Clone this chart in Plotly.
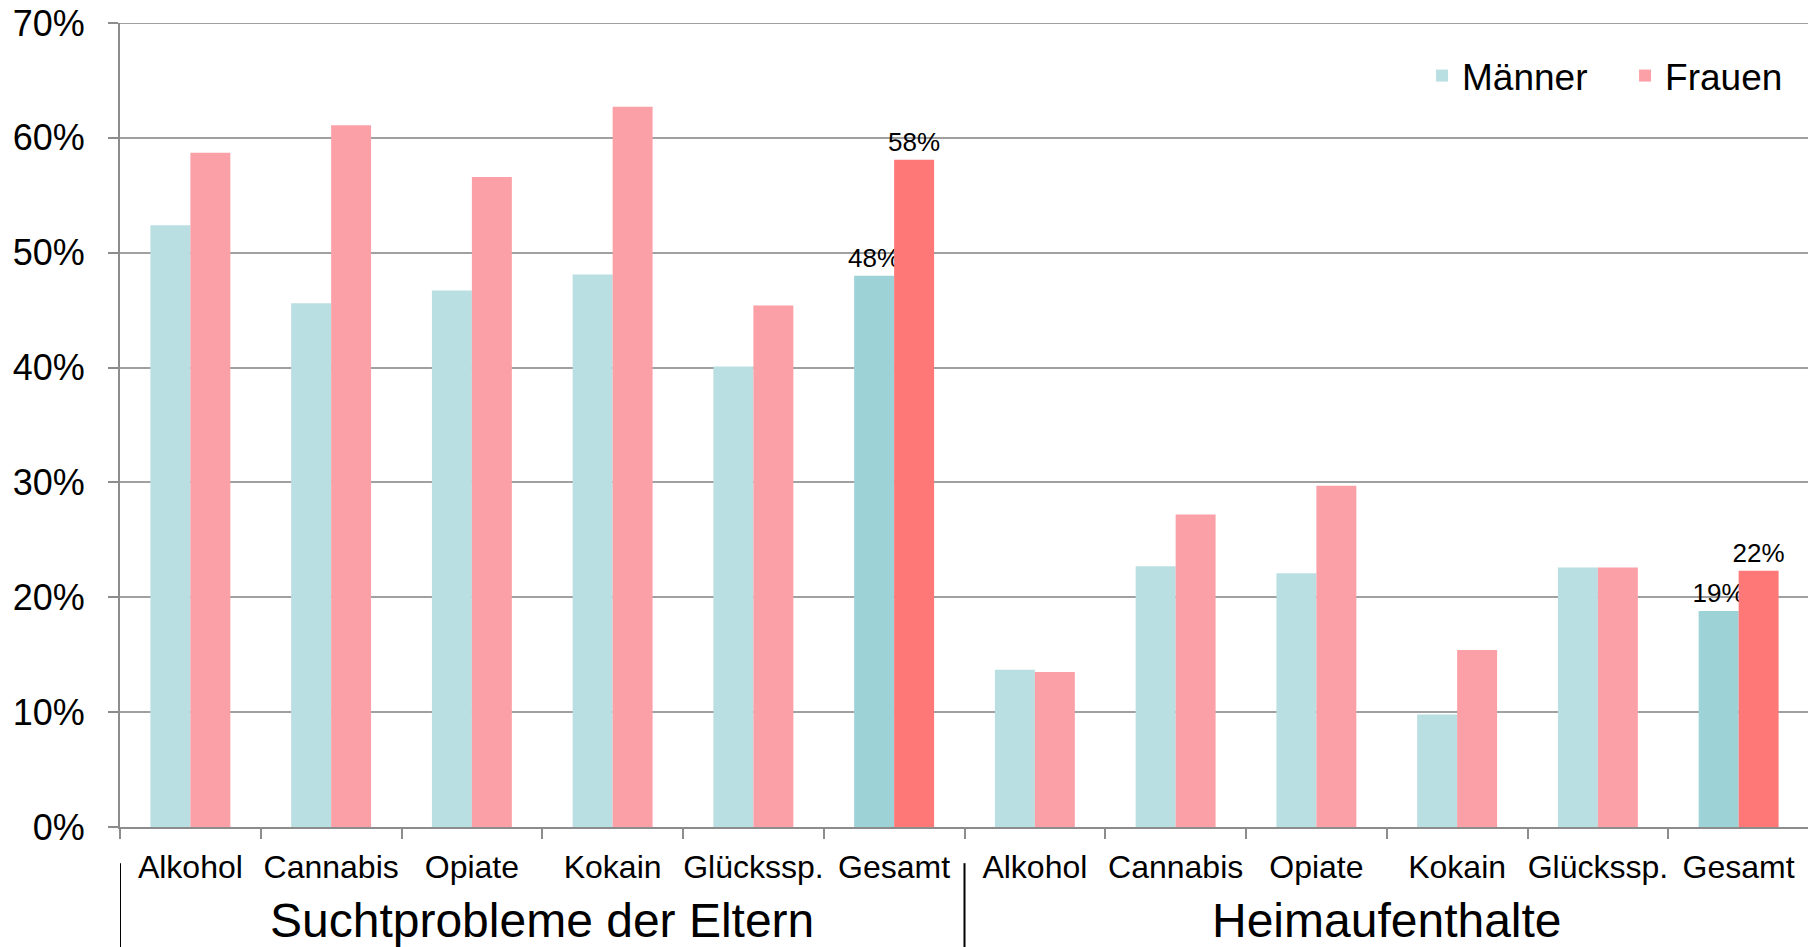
import plotly.graph_objects as go

groups = ["Suchtprobleme der Eltern", "Heimaufenthalte"]
categories = ["Alkohol", "Cannabis", "Opiate", "Kokain", "Glückssp.", "Gesamt"]
maenner_sucht = [52.4, 45.6, 46.7, 48.1, 40.1, 48.0]
frauen_sucht = [58.7, 61.1, 56.6, 62.7, 45.4, 58.1]
maenner_heim = [13.7, 22.7, 22.1, 9.8, 22.6, 18.8]
frauen_heim = [13.5, 27.2, 29.7, 15.4, 22.6, 22.3]
y_ticks = [0, 10, 20, 30, 40, 50, 60, 70]

FONT = "Liberation Sans, Arial, sans-serif"
M_LIGHT, M_DARK = "#BADFE2", "#9DD3D7"
F_LIGHT, F_DARK = "#FCA0A8", "#FF7878"
GRID = "#A0A0A0"
AXIS = "#8C8C8C"

cat_all = categories + categories
x_idx = list(range(len(cat_all)))
maenner = maenner_sucht + maenner_heim
frauen = frauen_sucht + frauen_heim

def colors(light, dark):
    return [dark if c == "Gesamt" else light for c in cat_all]

def labels(vals):
    return [f"{v:.0f}%" if c == "Gesamt" else "" for v, c in zip(vals, cat_all)]

fig = go.Figure()
fig.add_trace(go.Bar(
    x=x_idx, y=maenner, name="Männer", legend="legend",
    marker=dict(color=colors(M_LIGHT, M_DARK), line=dict(width=0)),
    text=labels(maenner), textposition="outside", constraintext="none",
    textfont=dict(size=26, color="black", family=FONT), cliponaxis=False,
))
fig.add_trace(go.Bar(
    x=x_idx, y=frauen, name="Frauen", legend="legend2",
    marker=dict(color=colors(F_LIGHT, F_DARK), line=dict(width=0)),
    text=labels(frauen), textposition="outside", constraintext="none",
    textfont=dict(size=26, color="black", family=FONT), cliponaxis=False,
))

legend_style = dict(orientation="h", xanchor="left", y=0.9726, yanchor="top",
                    font=dict(size=37, family=FONT), bgcolor="rgba(0,0,0,0)")

n = len(cat_all)
half = len(categories)
fig.update_layout(
    width=1816, height=947,
    margin=dict(l=112, r=15, t=15, b=128),
    paper_bgcolor="white", plot_bgcolor="white",
    font=dict(family=FONT, color="black"),
    barmode="group", bargap=0.432, bargroupgap=0,
    showlegend=True,
    legend=dict(x=0.7709, **legend_style),
    legend2=dict(x=0.8911, **legend_style),
    xaxis=dict(
        range=[-0.5, n - 0.5], automargin=False,
        tickmode="array", tickvals=x_idx, ticktext=cat_all,
        ticks="", tickfont=dict(size=32, family=FONT, color="black"),
        ticklabelstandoff=11,
        showline=True, linecolor=AXIS, linewidth=2,
        showgrid=False, zeroline=False,
        minor=dict(tickmode="array", tickvals=[i - 0.5 for i in range(n + 1)],
                   ticks="outside", ticklen=10, tickwidth=2, tickcolor=AXIS,
                   showgrid=False),
    ),
    yaxis=dict(
        range=[0, 70], automargin=False, tickmode="array", tickvals=y_ticks,
        ticktext=[f"{v}%" for v in y_ticks], ticklabeloverflow="allow",
        ticks="outside", ticklen=10, tickwidth=2, tickcolor=AXIS,
        tickfont=dict(size=36, family=FONT, color="black"),
        ticklabelstandoff=16,
        showline=True, linecolor=AXIS, linewidth=2,
        showgrid=True, gridcolor=GRID, gridwidth=2,
        zeroline=False,
    ),
)

# top gridline (plotly clips grid lines at the range end)
fig.add_shape(type="line", xref="paper", yref="y", x0=0, x1=1,
              y0=y_ticks[-1], y1=y_ticks[-1], layer="below",
              line=dict(color=GRID, width=2))

# group labels
for gi, g in enumerate(groups):
    fig.add_annotation(
        x=gi * half + (half - 1) / 2, xref="x", y=-0.15, yref="paper",
        text=g, showarrow=False, yanchor="bottom", xanchor="center", borderpad=0,
        font=dict(size=48, family=FONT, color="black"),
    )

# group separator brackets
for b in [-0.5, half - 0.5, n - 0.5]:
    fig.add_shape(type="line", xref="x", yref="paper", x0=b, x1=b,
                  y0=-0.045, y1=-0.16, line=dict(color="black", width=2))

fig.write_html("out.html")
